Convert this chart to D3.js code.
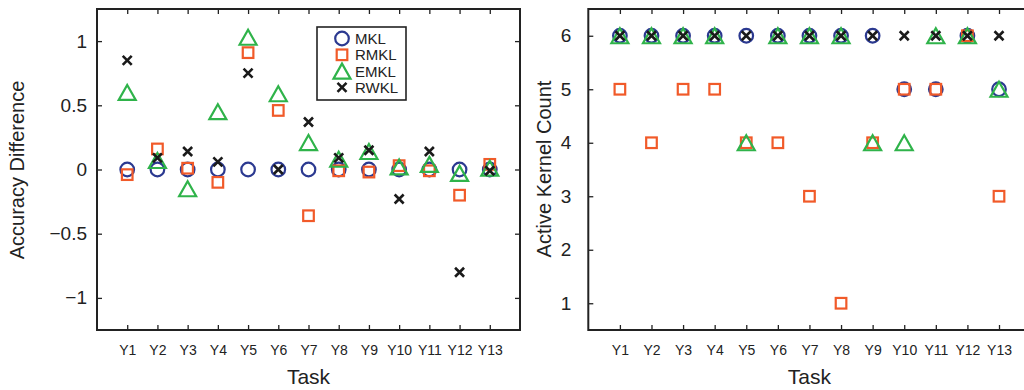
<!DOCTYPE html>
<html>
<head>
<meta charset="utf-8">
<script src="https://cdn.jsdelivr.net/npm/d3@7"></script>
<style>
  body { margin: 0; background: #fff; }
  svg { display: block; font-family: "Liberation Sans", Arial, sans-serif; }
</style>
</head>
<body>
<svg id="chart" width="1024" height="390"></svg>
<script>
// Tasks
const tasks = ["Y1","Y2","Y3","Y4","Y5","Y6","Y7","Y8","Y9","Y10","Y11","Y12","Y13"];
const seriesNames = ["MKL", "RMKL", "EMKL", "RWKL"];

// Left: accuracy difference
const accMKL  = [0, 0, 0, 0, 0, 0, 0, 0, 0, 0, 0, 0, 0];
const accRMKL = [-0.04, 0.16, 0.01, -0.10, 0.91, 0.46, -0.36, -0.01, -0.02, 0.03, -0.01, -0.20, 0.04];
const accEMKL = [0.60, 0.07, -0.15, 0.45, 1.03, 0.59, 0.21, 0.08, 0.14, 0.02, 0.04, -0.03, 0.01];
const accRWKL = [0.85, 0.09, 0.14, 0.06, 0.75, 0.00, 0.37, 0.09, 0.15, -0.23, 0.14, -0.80, -0.01];
const accTicks = [-1, -0.5, 0, 0.5, 1];

// Right: active kernel count
const cntMKL  = [6, 6, 6, 6, 6, 6, 6, 6, 6, 5, 5, 6, 5];
const cntRMKL = [5, 4, 5, 5, 4, 4, 3, 1, 4, 5, 5, 6, 3];
const cntEMKL = [6, 6, 6, 6, 4, 6, 6, 6, 4, 4, 6, 6, 5];
const cntRWKL = [6, 6, 6, 6, 6, 6, 6, 6, 6, 6, 6, 6, 6];
const cntTicks = [1, 2, 3, 4, 5, 6];

const colors = { MKL: "#2b3990", RMKL: "#f15a29", EMKL: "#2fb34a", RWKL: "#1a1a1a" };

const svg = d3.select("#chart");

function drawMarker(g, name, x, y) {
  const c = colors[name];
  if (name === "MKL") {
    g.append("circle").attr("cx", x).attr("cy", y).attr("r", 6.8)
      .attr("fill", "none").attr("stroke", c).attr("stroke-width", 2.2);
  } else if (name === "RMKL") {
    g.append("rect").attr("x", x - 5.3).attr("y", y - 5.3).attr("width", 10.6).attr("height", 10.6)
      .attr("fill", "none").attr("stroke", c).attr("stroke-width", 2.2);
  } else if (name === "EMKL") {
    g.append("path").attr("d", `M${x},${y - 7.5}L${x + 8.5},${y + 7.5}L${x - 8.5},${y + 7.5}Z`)
      .attr("fill", "none").attr("stroke", c).attr("stroke-width", 2.2).attr("stroke-linejoin", "miter");
  } else {
    g.append("path").attr("d", `M${x - 4.5},${y - 4.5}L${x + 4.5},${y + 4.5}M${x - 4.5},${y + 4.5}L${x + 4.5},${y - 4.5}`)
      .attr("stroke", c).attr("stroke-width", 2.6);
  }
}

function panel(opts) {
  const x = d3.scaleLinear().domain([0, 14]).range([opts.left, opts.right]);
  const y = d3.scaleLinear().domain(opts.yDomain).range([330, 9]);
  const g = svg.append("g");

  // bottom axis with labels
  const xb = g.append("g").attr("transform", "translate(0,330)")
    .call(d3.axisBottom(x).tickValues(d3.range(1, 14)).tickFormat(i => tasks[i - 1])
      .tickSizeInner(-5).tickSizeOuter(0).tickPadding(15));
  xb.selectAll("text").attr("font-size", 14).attr("fill", "#222");

  // top ticks
  g.append("g").attr("transform", "translate(0,9)")
    .call(d3.axisTop(x).tickValues(d3.range(1, 14)).tickFormat("").tickSizeInner(-5).tickSizeOuter(0));

  // left axis with labels
  const yl = g.append("g").attr("transform", `translate(${opts.left},0)`)
    .call(d3.axisLeft(y).tickValues(opts.ticks).tickFormat(opts.fmt)
      .tickSizeInner(-5).tickSizeOuter(0).tickPadding(opts.pad));
  yl.selectAll("text").attr("font-size", 19).attr("fill", "#222");

  // right ticks
  g.append("g").attr("transform", `translate(${opts.right},0)`)
    .call(d3.axisRight(y).tickValues(opts.ticks).tickFormat("").tickSizeInner(-5).tickSizeOuter(0));

  g.selectAll(".domain").remove();
  g.selectAll(".tick line").attr("stroke", "#222").attr("stroke-width", 1.3);

  // frame
  g.append("rect").attr("x", opts.left).attr("y", 9)
    .attr("width", opts.right - opts.left).attr("height", 321)
    .attr("fill", "none").attr("stroke", "#222").attr("stroke-width", 2);

  // points
  const pts = g.append("g");
  opts.series.forEach((vals, si) => {
    vals.forEach((v, i) => drawMarker(pts, seriesNames[si], x(i + 1), y(v)));
  });

  // axis titles
  g.append("text").attr("x", (opts.left + opts.right) / 2).attr("y", 384)
    .attr("text-anchor", "middle").attr("font-size", 21).attr("fill", "#222").text("Task");
  g.append("text").attr("transform", `translate(${opts.titleX},${opts.titleY}) rotate(-90)`)
    .attr("text-anchor", "middle").attr("font-size", 20).attr("fill", "#222").text(opts.yTitle);

  return { x, y, g };
}

const minusFmt = d => (d < 0 ? "\u2212" + Math.abs(d) : String(d));

panel({
  left: 97, right: 520, yDomain: [-1.25, 1.25], ticks: accTicks, fmt: minusFmt, pad: 10,
  series: [accMKL, accRMKL, accEMKL, accRWKL],
  yTitle: "Accuracy Difference", titleX: 24, titleY: 170
});

panel({
  left: 588.3, right: 1030.6, yDomain: [0.5, 6.5], ticks: cntTicks, fmt: d3.format("d"), pad: 17,
  series: [cntMKL, cntRMKL, cntEMKL, cntRWKL],
  yTitle: "Active Kernel Count", titleX: 551, titleY: 169
});

// legend
const lg = svg.append("g");
lg.append("rect").attr("x", 317).attr("y", 27).attr("width", 89).attr("height", 73)
  .attr("fill", "#fff").attr("stroke", "#222").attr("stroke-width", 1.6);
seriesNames.forEach((name, i) => {
  const yy = 38.5 + i * 16.3;
  drawMarker(lg, name, 342, yy);
  lg.append("text").attr("x", 355).attr("y", yy).attr("dy", "0.36em")
    .attr("font-size", 15).attr("fill", "#222").text(name);
});
</script>
</body>
</html>
